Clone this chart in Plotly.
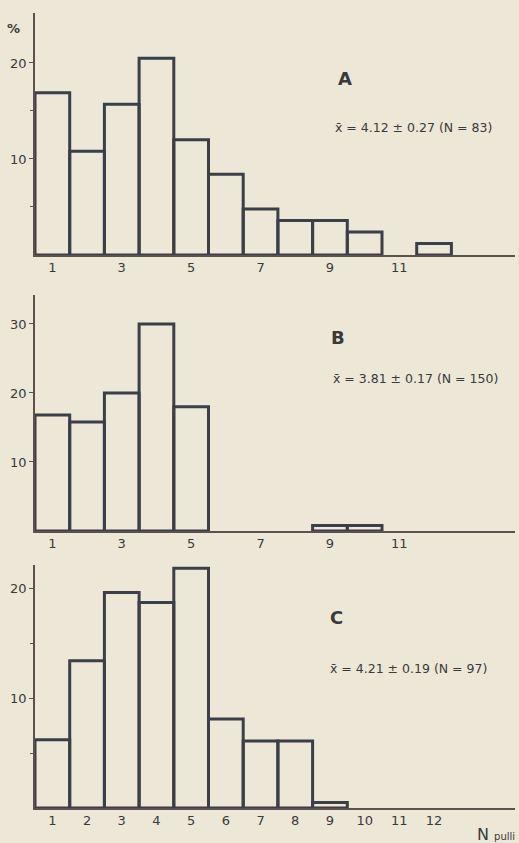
import plotly.graph_objects as go

bins = list(range(1, 13))
pct_A = [16.9, 10.8, 15.7, 20.5, 12.0, 8.4, 4.8, 3.6, 3.6, 2.4, None, 1.2]
pct_B = [16.8, 15.8, 20.0, 30.0, 18.0, None, None, None, 0.8, 0.8, None, None]
pct_C = [6.2, 13.4, 19.6, 18.7, 21.8, 8.1, 6.1, 6.1, 0.5, None, None, None]

panel_labels = ["A", "B", "C"]
stat_texts = [
    "x̄ = 4.12 ± 0.27 (N = 83)",
    "x̄ = 3.81 ± 0.17 (N = 150)",
    "x̄ = 4.21 ± 0.19 (N = 97)",
]
ticks_AB = [1, 3, 5, 7, 9, 11]
ticks_C = list(range(1, 13))

W, H = 519, 843
BG = "#ECE7D7"
BAR_LINE = "#3b3f47"
AXIS = "#5e504c"
TXT = "#3a3a3a"
FONT = "DejaVu Sans"

def py(pix):
    return (H - pix) / H

panels = [
    dict(vals=pct_A, base=255, top=13, ymax=25.2, ticks=ticks_AB,
         major=[10, 20], minor=[5, 15]),
    dict(vals=pct_B, base=531, top=295, ymax=34.2, ticks=ticks_AB,
         major=[10, 20, 30], minor=[]),
    dict(vals=pct_C, base=808, top=565, ymax=22.1, ticks=ticks_C,
         major=[10, 20], minor=[5, 15]),
]

x0_pix, x1_pix, binw = 35, 515, 34.7
xmax = 0.5 + (x1_pix - x0_pix) / binw

fig = go.Figure()
layout = dict(
    width=W, height=H, margin=dict(l=0, r=0, t=0, b=0),
    paper_bgcolor=BG, plot_bgcolor=BG, showlegend=False,
    font=dict(family=FONT, color=TXT, size=13),
)
for i, p in enumerate(panels):
    n = "" if i == 0 else str(i + 1)
    fig.add_trace(go.Bar(
        x=bins, y=p["vals"], width=1.0,
        marker=dict(color="rgba(0,0,0,0)", line=dict(color=BAR_LINE, width=3)),
        xaxis="x" + n, yaxis="y" + n, hoverinfo="skip",
    ))
    layout["xaxis" + n] = dict(
        domain=[x0_pix / W, x1_pix / W], range=[0.5, xmax],
        anchor="y" + n, showgrid=False, zeroline=False,
        showline=True, linecolor=AXIS, linewidth=1.5,
        tickmode="array", tickvals=p["ticks"], ticks="",
        tickfont=dict(size=13, color=TXT, family=FONT),
    )
    layout["yaxis" + n] = dict(
        domain=[py(p["base"]), py(p["top"])], range=[0, p["ymax"]],
        anchor="x" + n, showgrid=False, zeroline=False,
        showline=True, linecolor=AXIS, linewidth=1.5,
        tickmode="array", tickvals=p["major"], ticks="outside",
        ticklen=4, tickcolor=AXIS, tickwidth=1,
        tickfont=dict(size=13, color=TXT, family=FONT),
        minor=dict(tickmode="array", tickvals=p["minor"], ticks="outside",
                   ticklen=3, tickcolor=AXIS),
    )

ann = []
letter_pos = [(345, 78), (338, 337), (336, 617)]
stat_pos = [(333, 128), (331, 378), (328, 668)]
for i in range(3):
    ann.append(dict(text="<b>" + panel_labels[i] + "</b>", xref="paper", yref="paper",
                    x=letter_pos[i][0] / W, y=py(letter_pos[i][1]),
                    xanchor="center", yanchor="middle", showarrow=False,
                    font=dict(size=18, color=TXT, family=FONT)))
    ann.append(dict(text=stat_texts[i], xref="paper", yref="paper",
                    x=stat_pos[i][0] / W, y=py(stat_pos[i][1]),
                    xanchor="left", yanchor="middle", showarrow=False,
                    font=dict(size=12.5, color=TXT, family=FONT)))
ann.append(dict(text="<b>%</b>", xref="paper", yref="paper", x=13 / W, y=py(28),
                xanchor="center", yanchor="middle", showarrow=False,
                font=dict(size=13, color=TXT, family=FONT)))
ann.append(dict(text="N <span style='font-size:10px'>pulli</span>", xref="paper", yref="paper",
                x=517 / W, y=py(834), xanchor="right", yanchor="middle", showarrow=False,
                font=dict(size=16, color=TXT, family=FONT)))
layout["annotations"] = ann

fig.update_layout(**layout)
fig.write_html("out.html", config={"displayModeBar": False},
               post_script="document.body.style.margin='0';document.body.style.overflow='hidden';")
